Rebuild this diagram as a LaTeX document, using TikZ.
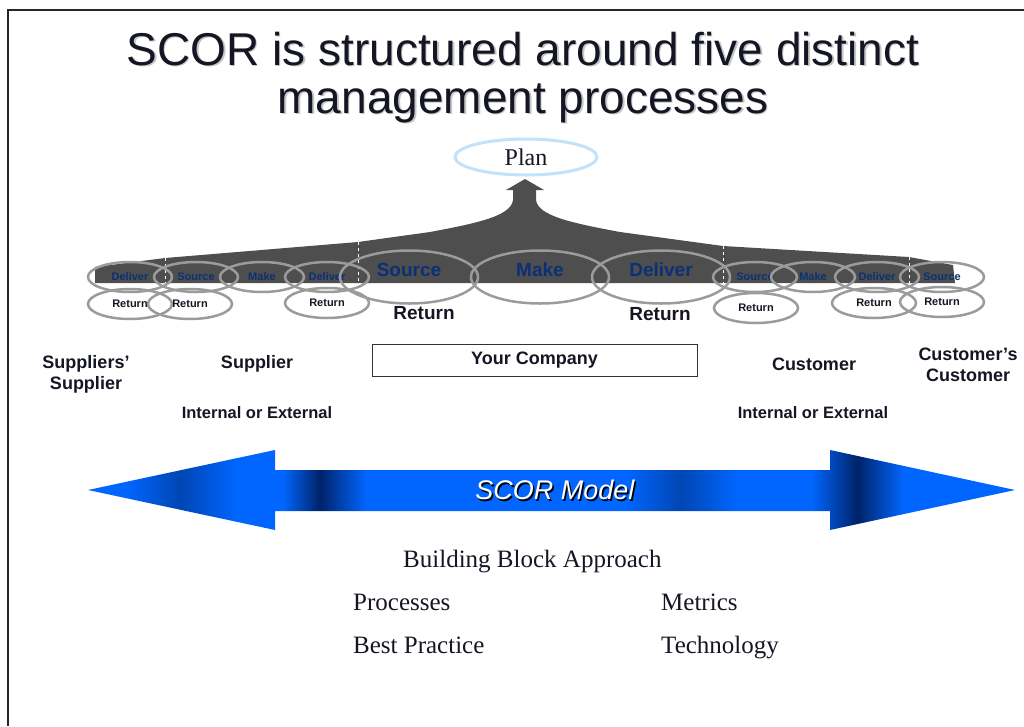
\documentclass[tikz,border=0pt]{standalone}
\usepackage{fontspec}
\setmainfont{Liberation Serif}
\setsansfont{Liberation Sans}
\usetikzlibrary{shapes.geometric,positioning}

\definecolor{ringgray}{RGB}{155,155,155}
\definecolor{procblue}{RGB}{12,48,118}
\definecolor{inkdark}{RGB}{20,22,35}
\definecolor{hubgray}{RGB}{78,78,78}
\definecolor{planblue}{RGB}{192,226,250}
\definecolor{scorblue}{RGB}{0,102,255}
\definecolor{scornavy}{RGB}{0,35,105}
\definecolor{scormid}{RGB}{0,70,180}

% left-to-right banding of the model arrow
\pgfdeclarehorizontalshading{scorband}{100bp}{color(0bp)=(scorblue); color(27bp)=(scorblue);
  color(30bp)=(scormid); color(33bp)=(scorblue); color(35.5bp)=(scorblue); color(37.5bp)=(scornavy);
  color(40bp)=(scorblue); color(54bp)=(scorblue); color(57bp)=(scormid); color(60bp)=(scorblue);
  color(64bp)=(scorblue); color(66.5bp)=(scornavy); color(69bp)=(scorblue); color(100bp)=(scorblue)}

\tikzset{
  smallproc/.style={ellipse,draw=ringgray,line width=2.5,minimum width=84,minimum height=30,
    inner sep=0,text=procblue,font=\sffamily\bfseries\fontsize{11}{12}\selectfont},
  smallret/.style={smallproc,text=inkdark},
  bigproc/.style={ellipse,draw=ringgray,line width=2.5,minimum width=138,minimum height=53,inner sep=0},
  bigtext/.style={inner sep=0,text=procblue,font=\sffamily\bfseries\fontsize{19}{21}\selectfont},
  party/.style={align=center,inner sep=0,text=inkdark,font=\sffamily\bfseries\fontsize{18}{21}\selectfont},
  scope/.style={inner sep=0,text=inkdark,font=\sffamily\bfseries\fontsize{16.5}{18}\selectfont},
  block/.style={inner sep=0,text=inkdark,font=\fontsize{25}{27}\selectfont}
}

\begin{document}
\begin{tikzpicture}[x=1pt,y=-1pt]
\useasboundingbox (0,0) rectangle (1024,726);

% Frame
\draw[line width=2,black!85] (8,726) -- (8,10) -- (1024,10);

% Title with soft shadow
\node[align=center,inner sep=0,anchor=base,text=black!22,font=\sffamily\fontsize{46}{48}\selectfont]
  at (524.5,114.5) {SCOR is structured around five distinct\\management processes};
\node[align=center,inner sep=0,anchor=base,text=inkdark,font=\sffamily\fontsize{46}{48}\selectfont]
  (title) at (523,113) {SCOR is structured around five distinct\\management processes};

% Plan
\node[ellipse,draw=planblue,line width=3,minimum width=142,minimum height=36,inner sep=0,
  text=inkdark,font=\fontsize{24}{26}\selectfont] (plan) at (526,157) {Plan};

% Hub feeding up into Plan
\fill[hubgray] (95,283) -- (95,267) -- (165,258) -- (358,242) -- (430,232)
  .. controls (478,223) and (511,216) .. (513,200) -- (513,190) -- (506,190)
  -- (525,179) -- (544,190) -- (536,190) -- (536,200)
  .. controls (538,216) and (572,223) .. (620,232) -- (723,246) -- (909,257)
  -- (953,265) -- (955,283) -- cycle;
\foreach \x/\y in {165/258,358/242,723/246,909/257}
  \draw[white,dashed,line width=1] (\x,\y) -- (\x,283);

% Suppliers' supplier and supplier
\node[smallproc] (ssDeliver) at (130,277) {Deliver};
\node[smallproc] (sSource) at (196,277) {Source};
\node[smallproc] (sMake) at (262,277) {Make};
\node[smallproc] (sDeliver) at (327,277) {Deliver};
\node[smallret] (ssReturn) at (130,304) {Return};
\node[smallret] (sReturnIn) at (190,304) {Return};
\node[smallret] (sReturnOut) at (327,303) {Return};

% Your company
\node[bigproc] (coSource) at (409,277) {};
\node[bigproc] (coMake) at (540,277) {};
\node[bigproc] (coDeliver) at (661,277) {};
\node[bigtext] (coSourceTxt) at ([yshift=7]coSource.center) {Source};
\node[bigtext] (coMakeTxt) at ([yshift=7]coMake.center) {Make};
\node[bigtext] (coDeliverTxt) at ([yshift=7]coDeliver.center) {Deliver};
\node[bigtext,text=inkdark] (coReturnIn) at (424,313) {Return};
\node[bigtext,text=inkdark] (coReturnOut) at (660,314) {Return};

% Customer and customer's customer
\node[smallproc] (cSource) at (755,277) {Source};
\node[smallproc] (cMake) at (813,277) {Make};
\node[smallproc] (cDeliver) at (877,277) {Deliver};
\node[smallproc] (ccSource) at (942,277) {Source};
\node[smallret] (cReturnIn) at (756,308) {Return};
\node[smallret] (cReturnOut) at (874,303) {Return};
\node[smallret] (ccReturn) at (942,302) {Return};

% Parties along the chain
\node[party] (suppsupp) at (86,374) {Suppliers'\\Supplier};
\node[party] (supplier) at (257,364) {Supplier};
\node[party,draw=black!80,line width=1,minimum width=325,minimum height=32] (yourco) at (534.5,360) {Your Company};
\node[party] (customer) at (814,364) {Customer};
\node[party] (custcust) at (968,365) {Customer's\\Customer};
\node[scope] (supplierScope) at (257,413) {Internal or External};
\node[scope] (customerScope) at (813,413) {Internal or External};

% SCOR model arrow
\shade[shading=scorband] (88,490) -- (275,450) -- (275,470) -- (830,470) -- (830,450)
  -- (1015,490) -- (830,530) -- (830,511) -- (275,511) -- (275,530) -- cycle;
\node[inner sep=0,text=black,font=\sffamily\itshape\fontsize{27}{29}\selectfont] at (556.5,491.5) {SCOR Model};
\node[inner sep=0,text=white,font=\sffamily\itshape\fontsize{27}{29}\selectfont] (scormodel) at (555,490) {SCOR Model};

% Building blocks
\node[block,anchor=base west] (approach) at (403,567) {Building Block Approach};
\node[block,anchor=base west] (processes) at (353,610) {Processes};
\node[block,anchor=base west] (metrics) at (661,610) {Metrics};
\node[block,anchor=base west] (practice) at (353,653) {Best Practice};
\node[block,anchor=base west] (technology) at (661,653) {Technology};
\end{tikzpicture}
\end{document}
